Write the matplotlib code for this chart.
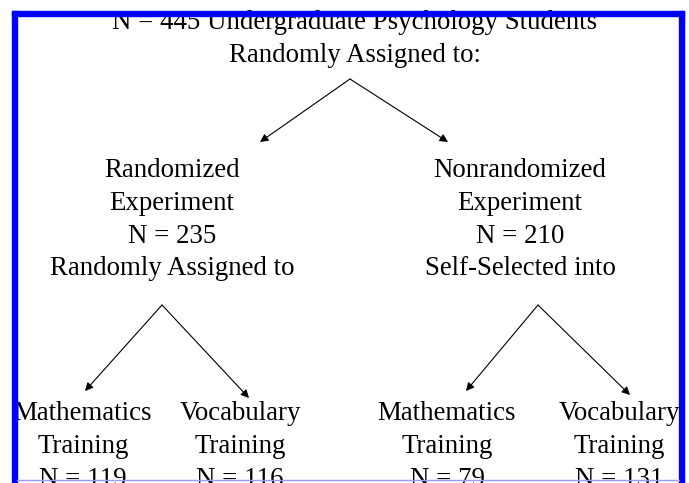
import matplotlib.pyplot as plt
from matplotlib.patches import Rectangle

# text blocks: lines, centre x, first-line baseline y (pixel-like coords)
TOP_LINES = ["N = 445 Undergraduate Psychology Students", "Randomly Assigned to:"]
LEFT_LINES = ["Randomized", "Experiment", "N = 235", "Randomly Assigned to"]
RIGHT_LINES = ["Nonrandomized", "Experiment", "N = 210", "Self-Selected into"]
LEAF_LINES = [
    ["Mathematics", "Training", "N = 119"],
    ["Vocabulary", "Training", "N = 116"],
    ["Mathematics", "Training", "N = 79"],
    ["Vocabulary", "Training", "N = 131"],
]

TOP_X, TOP_Y = 355, 29
MID_X = [172, 520]
MID_Y = 177
LEAF_X = [83, 240, 447, 619]
LEAF_Y = 420
LINE_GAP = 32.8

# arrows: apex -> tip
ARROWS = [
    ((350, 79), (260, 142)),
    ((350, 79), (448, 142)),
    ((162, 305), (85, 391)),
    ((162, 305), (249, 398)),
    ((538, 305), (466, 391)),
    ((538, 305), (630, 395)),
]

plt.rcParams["font.family"] = ["Liberation Serif", "DejaVu Serif"]

fig = plt.figure(figsize=(6.89, 4.83), dpi=100)
ax = fig.add_axes([0, 0, 1, 1])
ax.set_xlim(0, 689)
ax.set_ylim(483, 0)
ax.axis("off")

clip = Rectangle((16, 16), 663, 464, transform=ax.transData, fill=False)


def block(lines, x, y):
    for i, s in enumerate(lines):
        t = ax.text(x, y + i * LINE_GAP, s, ha="center", va="baseline",
                    fontsize=19.4, color="black")
        t.set_clip_path(clip)


block(TOP_LINES, TOP_X, TOP_Y)
block(LEFT_LINES, MID_X[0], MID_Y)
block(RIGHT_LINES, MID_X[1], MID_Y)
for lines, x in zip(LEAF_LINES, LEAF_X):
    block(lines, x, LEAF_Y)

for start, end in ARROWS:
    ax.annotate("", xy=end, xytext=start,
                arrowprops=dict(arrowstyle="-|>", color="black", lw=0.8,
                                mutation_scale=12, shrinkA=0, shrinkB=0))

# blue frame (left, top, right thick; bottom thin light)
ax.add_patch(Rectangle((12, 11), 5, 472, color="#0000ff", zorder=5))
ax.add_patch(Rectangle((12, 11), 672, 5, color="#0000ff", zorder=5))
ax.add_patch(Rectangle((679, 11), 5, 472, color="#0000ff", zorder=5))
ax.plot([17, 679], [480, 480], color="#9999ff", lw=1, zorder=5)

fig.savefig("out.png", dpi=100)
